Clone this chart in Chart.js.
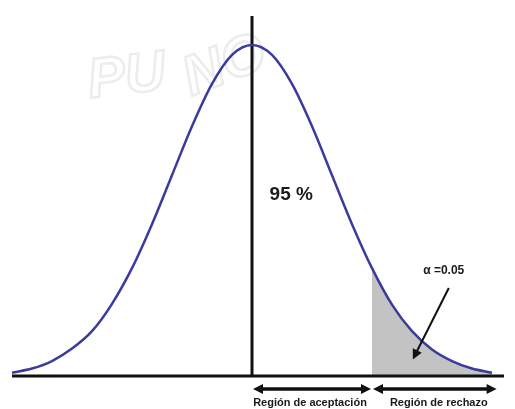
<!DOCTYPE html>
<html>
<head>
<meta charset="utf-8">
<script src="https://cdn.jsdelivr.net/npm/chart.js@4"></script>
<style>
  html, body { margin: 0; padding: 0; background: #fff; }
  canvas { display: block; }
</style>
</head>
<body>
<canvas id="normalChart" width="515" height="409"></canvas>
<script>
// valores (z en desviaciones estándar)
const zValues = [-3, -2.75, -2.5, -2.25, -2, -1.75, -1.5, -1.25, -1, -0.75, -0.5, -0.25,
                 0, 0.25, 0.5, 0.75, 1, 1.25, 1.5, 1.75, 2, 2.25, 2.5, 2.75, 3];
const density = [0.004, 0.009, 0.018, 0.033, 0.054, 0.087, 0.130, 0.183, 0.242, 0.301, 0.352, 0.387,
                 0.399, 0.387, 0.352, 0.301, 0.242, 0.183, 0.130, 0.086, 0.054, 0.032, 0.018, 0.009, 0.004];
const rejectStart = 1.5;
const axisRange = [-3, 3.15];
const centerTop = 0.434;
const regionLabels = ['Región de aceptación', 'Región de rechazo'];
const regionBounds = [[0, 1.5], [1.5, 3.07]];
const confidenceText = '95 %';
const alphaText = 'α =0.05';

const curve = zValues.map((z, i) => ({ x: z, y: density[i] }));
const tail = curve.filter(p => p.x >= rejectStart);

// marca de agua, etiquetas y flechas
const annotations = {
    id: 'annotations',
    beforeDatasetsDraw(chart) {
        const ctx = chart.ctx;
        ctx.save();
        ctx.strokeStyle = '#ececec';
        ctx.lineWidth = 2.5;
        ctx.font = 'italic bold 56px "Liberation Sans", Arial, sans-serif';
        ctx.translate(90, 98);
        ctx.rotate(-0.12);
        ctx.strokeText('PU', 0, 0);
        ctx.rotate(-0.25);
        ctx.strokeText('NO', 95, 35);
        ctx.restore();
    },
    afterDatasetsDraw(chart) {
        const ctx = chart.ctx;
        const xs = chart.scales.x, ys = chart.scales.y;
        const bottom = chart.chartArea.bottom;

        ctx.save();
        ctx.fillStyle = '#1a1a1a';
        ctx.textBaseline = 'middle';
        ctx.font = 'bold 19px "Liberation Sans", Arial, sans-serif';
        ctx.fillText(confidenceText, xs.getPixelForValue(0.22), ys.getPixelForValue(0.218));

        ctx.font = 'bold 12px "Liberation Sans", Arial, sans-serif';
        ctx.fillText(alphaText, xs.getPixelForValue(2.14), ys.getPixelForValue(0.127));

        // flecha alfa
        arrow(ctx, xs.getPixelForValue(2.46), ys.getPixelForValue(0.106),
                   xs.getPixelForValue(2.01), ys.getPixelForValue(0.02), 2);

        // flechas de regiones
        const ay = bottom + 13;
        regionBounds.forEach((b, i) => {
            const x1 = xs.getPixelForValue(b[0]) + 1;
            const x2 = xs.getPixelForValue(b[1]) - 1;
            arrow(ctx, x1 + 4, ay, x2, ay, 3);
            arrow(ctx, x2 - 4, ay, x1, ay, 3);
            ctx.font = 'bold 11px "Liberation Sans", Arial, sans-serif';
            ctx.textAlign = 'center';
            ctx.fillText(regionLabels[i], (x1 + x2) / 2 + (i ? 4 : -2), bottom + 27);
        });
        ctx.restore();
    }
};

function arrow(ctx, x1, y1, x2, y2, w) {
    const ang = Math.atan2(y2 - y1, x2 - x1);
    const len = 10, half = 5;
    ctx.strokeStyle = '#111';
    ctx.fillStyle = '#111';
    ctx.lineWidth = w;
    ctx.beginPath();
    ctx.moveTo(x1, y1);
    ctx.lineTo(x2 - Math.cos(ang) * len * 0.8, y2 - Math.sin(ang) * len * 0.8);
    ctx.stroke();
    ctx.beginPath();
    ctx.moveTo(x2, y2);
    ctx.lineTo(x2 - Math.cos(ang) * len + Math.sin(ang) * half, y2 - Math.sin(ang) * len - Math.cos(ang) * half);
    ctx.lineTo(x2 - Math.cos(ang) * len - Math.sin(ang) * half, y2 - Math.sin(ang) * len + Math.cos(ang) * half);
    ctx.closePath();
    ctx.fill();
    ctx.fillStyle = '#1a1a1a';
}

new Chart(document.getElementById('normalChart'), {
    type: 'line',
    data: {
        datasets: [
            {
                data: curve,
                borderColor: '#3b3b9c',
                borderWidth: 2.5,
                pointRadius: 0,
                cubicInterpolationMode: 'monotone',
                fill: false,
                clip: false
            },
            {
                data: [{ x: 0, y: 0 }, { x: 0, y: centerTop }],
                borderColor: '#111',
                borderWidth: 3,
                pointRadius: 0,
                fill: false,
                clip: false
            },
            {
                data: [{ x: axisRange[0], y: 0 }, { x: axisRange[1], y: 0 }],
                borderColor: '#111',
                borderWidth: 3,
                pointRadius: 0,
                fill: false,
                clip: false
            },
            {
                data: tail,
                borderWidth: 0,
                pointRadius: 0,
                cubicInterpolationMode: 'monotone',
                backgroundColor: '#c3c3c3',
                fill: 'origin',
                clip: false
            }
        ]
    },
    options: {
        responsive: false,
        animation: false,
        devicePixelRatio: 1,
        layout: { padding: { left: 0, right: 0, top: 0, bottom: 33 } },
        plugins: {
            legend: { display: false },
            tooltip: { enabled: false }
        },
        scales: {
            x: { type: 'linear', min: -3.15, max: 3.2875, display: false },
            y: { min: 0, max: 0.4532, display: false }
        }
    },
    plugins: [annotations]
});
</script>
</body>
</html>
